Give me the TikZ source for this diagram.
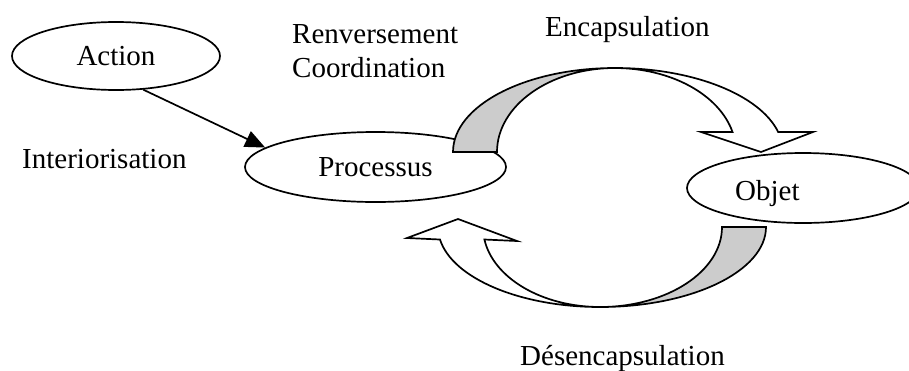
\documentclass[tikz,border=0pt]{standalone}
\usepackage{fontspec}
\setmainfont{Liberation Serif}
\usetikzlibrary{shapes.geometric,arrows.meta}
\tikzset{
  oval/.style={draw,ellipse,line width=1.7pt,inner sep=0pt,fill=white},
  lbl/.style={inner sep=0pt,anchor=base west},
  band/.style={draw,line width=1.7pt,line join=miter},
}
\begin{document}
\begin{tikzpicture}[x=1pt,y=-1pt,font=\fontsize{29}{34}\selectfont]
\useasboundingbox (0,0) rectangle (909,370);
\clip (0,0) rectangle (909,370);
% ellipses
\node[oval,minimum width=208pt,minimum height=68pt] (action) at (116,56) {Action};
\node[oval,minimum width=261pt,minimum height=70pt] (processus) at (375.5,167) {Processus};
\node[oval,minimum width=232pt,minimum height=70pt] (objet) at (803,188) {};
\node[lbl] (objettext) at (735,200) {Objet};
% labels
\node[lbl] (renv) at (292,43) {Renversement};
\node[lbl] (coord) at (292,77) {Coordination};
\node[lbl] (encap) at (545,36) {Encapsulation};
\node[lbl] (inter) at (22,168) {Interiorisation};
\node[lbl] (desencap) at (520,365) {Désencapsulation};
% action -> processus
\draw[line width=1.7pt,-{Triangle[length=20pt,width=17pt]}] (action.309) -- (processus.170);
% top curved arrow (Encapsulation)
\path[band,fill=gray!40] (453,152) arc[start angle=180,end angle=270,x radius=162,y radius=84]
  arc[start angle=270,end angle=180,x radius=118,y radius=84] -- cycle;
\path[band,fill=white] (615,68) arc[start angle=270,end angle=346.2,x radius=168,y radius=84]
  -- (813,132) -- (761,152) -- (701,132) -- (732.5,132)
  arc[start angle=346.2,end angle=270,x radius=121,y radius=84] -- cycle;
% bottom curved arrow (Desencapsulation)
\path[band,fill=gray!40] (766,227) arc[start angle=0,end angle=90,x radius=166,y radius=80]
  arc[start angle=90,end angle=0,x radius=122,y radius=80] -- cycle;
\path[band,fill=white] (600,307) arc[start angle=90,end angle=171,x radius=162,y radius=80]
  -- (407,238) -- (458,219) -- (517,241) -- (484.4,239.5)
  arc[start angle=171,end angle=90,x radius=117,y radius=80] -- cycle;
\end{tikzpicture}
\end{document}
